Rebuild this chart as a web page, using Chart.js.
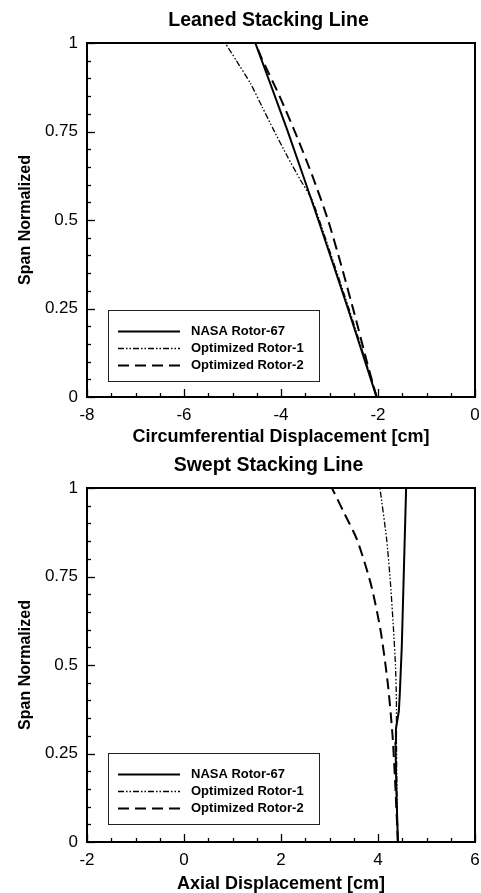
<!DOCTYPE html>
<html>
<head>
<meta charset="utf-8">
<script src="https://cdn.jsdelivr.net/npm/chart.js@4.4.1/dist/chart.umd.min.js"></script>
<style>
  html, body { margin: 0; padding: 0; background: #fff; }
  #wrap { position: relative; width: 481px; height: 893px; overflow: hidden; }
  canvas { position: absolute; left: 0; }
</style>
</head>
<body>
<div id="wrap">
  <canvas id="leanChart" width="481" height="446" style="top:0"></canvas>
  <canvas id="sweepChart" width="481" height="448" style="top:445px"></canvas>
</div>
<script>
const FONT = "'Liberation Sans', Arial, Helvetica, sans-serif";

const seriesLabels = ['NASA Rotor-67', 'Optimized Rotor-1', 'Optimized Rotor-2'];

// leaned stacking line: circumferential displacement [cm] along the span
const leanNasaSpan = [0, 0.25, 0.5, 0.754, 1];
const leanNasaX    = [-2.03, -2.62, -3.23, -3.87, -4.53];
const leanOpt1Span = [0, 0.25, 0.5, 0.56, 0.613, 0.68, 0.754, 0.82, 0.886, 0.95, 1];
const leanOpt1X    = [-2.02, -2.60, -3.21, -3.37, -3.60, -3.87, -4.15, -4.39, -4.63, -4.92, -5.15];
const leanOpt2Span = [0, 0.1, 0.232, 0.373, 0.5, 0.62, 0.735, 0.85, 0.957, 1];
const leanOpt2X    = [-2.03, -2.23, -2.48, -2.76, -3.03, -3.34, -3.67, -4.03, -4.40, -4.53];

// swept stacking line: axial displacement [cm] along the span
const sweepNasaSpan = [0, 0.14, 0.28, 0.32, 0.37, 0.42, 0.55, 0.75, 1];
const sweepNasaX    = [4.41, 4.38, 4.36, 4.37, 4.43, 4.45, 4.49, 4.53, 4.58];
const sweepOpt1Span = [0, 0.15, 0.3, 0.4, 0.5, 0.6, 0.726, 0.853, 1];
const sweepOpt1X    = [4.41, 4.39, 4.38, 4.38, 4.36, 4.32, 4.26, 4.18, 4.04];
const sweepOpt2Span = [0, 0.15, 0.3, 0.45, 0.6, 0.73, 0.853, 0.93, 1];
const sweepOpt2X    = [4.41, 4.36, 4.30, 4.20, 4.05, 3.85, 3.57, 3.30, 3.05];

const leanTicks  = { min: -8, max: 0, step: 2, minor: 0.5 };
const sweepTicks = { min: -2, max: 6, step: 2, minor: 0.5 };
const spanTicks  = { min: 0, max: 1, step: 0.25, minor: 0.05 };

const lineStyles = [
  { borderWidth: 2, borderDash: [] },
  { borderWidth: 1.3, borderDash: [6, 2, 1.5, 2, 1.5, 2] },
  { borderWidth: 2, borderDash: [11, 6] }
];

function pts(xs, ys) {
  return xs.map((x, i) => ({ x: x, y: ys[i] }));
}

// box frame with inward major/minor ticks on the left and bottom axes
const framePlugin = {
  id: 'frameTicks',
  afterLayout(chart) {
    // let the y tick labels use the full width left of the plot
    chart.scales.y.left = 0;
  },
  afterDatasetsDraw(chart, args, opts) {
    const { ctx, chartArea: a, scales } = chart;
    ctx.save();
    ctx.strokeStyle = '#000';
    ctx.lineWidth = 1.3;
    const xs = scales.x, ys = scales.y;
    const nx = Math.round((xs.max - xs.min) / opts.xMinor);
    for (let i = 0; i <= nx; i++) {
      const v = xs.min + i * opts.xMinor;
      const major = Math.abs(v / opts.xMajor - Math.round(v / opts.xMajor)) < 1e-6;
      const px = Math.round(xs.getPixelForValue(v)) + 0.5;
      ctx.beginPath();
      ctx.moveTo(px, a.bottom);
      ctx.lineTo(px, a.bottom - (major ? 8 : 4));
      ctx.stroke();
    }
    const ny = Math.round((ys.max - ys.min) / opts.yMinor);
    for (let i = 0; i <= ny; i++) {
      const v = ys.min + i * opts.yMinor;
      const major = Math.abs(v / opts.yMajor - Math.round(v / opts.yMajor)) < 1e-6;
      const py = Math.round(ys.getPixelForValue(v)) + 0.5;
      ctx.beginPath();
      ctx.moveTo(a.left, py);
      ctx.lineTo(a.left + (major ? 8 : 4), py);
      ctx.stroke();
    }
    ctx.lineWidth = 2;
    ctx.strokeRect(a.left, a.top, a.right - a.left, a.bottom - a.top);
    ctx.restore();
  }
};

// boxed legend in the lower-left corner of the plot
const boxLegendPlugin = {
  id: 'boxLegend',
  afterDraw(chart, args, opts) {
    const { ctx, chartArea: a } = chart;
    const left = a.left + opts.left;
    const top = a.bottom - opts.bottom - opts.height;
    ctx.save();
    ctx.fillStyle = '#fff';
    ctx.fillRect(left, top, opts.width, opts.height);
    ctx.strokeStyle = '#222';
    ctx.lineWidth = 1;
    ctx.strokeRect(left + 0.5, top + 0.5, opts.width, opts.height);
    ctx.font = 'bold 13px ' + FONT;
    ctx.textBaseline = 'middle';
    ctx.fillStyle = '#000';
    chart.data.datasets.forEach((ds, i) => {
      const y = Math.round(top + 21 + i * 17) + 0.5;
      ctx.strokeStyle = '#000';
      ctx.lineWidth = ds.borderWidth;
      ctx.setLineDash(ds.borderDash);
      ctx.beginPath();
      ctx.moveTo(left + 10, y);
      ctx.lineTo(left + 72, y);
      ctx.stroke();
      ctx.setLineDash([]);
      ctx.fillText(ds.label, left + 83, y);
    });
    ctx.restore();
  }
};

// left padding pushes the centred title right; the y axis box is narrowed to match
const PAD_LEFT = 62;
const PLOT_LEFT = 87;

function makeChart(id, title, xTitle, xTicks, series, xBoxHeight, legendBottom) {
  const datasets = series.map((s, i) => ({
    label: seriesLabels[i],
    data: pts(s[0], s[1]),
    showLine: true,
    borderColor: '#000',
    backgroundColor: '#000',
    borderWidth: lineStyles[i].borderWidth,
    borderDash: lineStyles[i].borderDash,
    pointRadius: 0,
    tension: s[2] || 0
  }));
  return new Chart(document.getElementById(id), {
    type: 'scatter',
    data: { datasets: datasets },
    options: {
      responsive: false,
      animation: false,
      layout: { padding: { left: PAD_LEFT, right: 6, top: 0, bottom: 0 } },
      plugins: {
        legend: { display: false },
        tooltip: { enabled: false },
        title: {
          display: true, text: title, color: '#000',
          font: { family: FONT, size: 19.5, weight: 'bold' },
          padding: { top: 9, bottom: 10.6 }
        },
        frameTicks: { xMinor: xTicks.minor, xMajor: xTicks.step, yMinor: spanTicks.minor, yMajor: spanTicks.step },
        boxLegend: { left: 21, bottom: legendBottom, width: 211, height: 71 }
      },
      scales: {
        x: {
          type: 'linear', min: xTicks.min, max: xTicks.max,
          grid: { display: false, drawTicks: false },
          border: { display: false },
          ticks: { stepSize: xTicks.step, color: '#000', padding: 8, font: { family: FONT, size: 17 } },
          title: {
            display: true, text: xTitle, color: '#000',
            font: { family: FONT, size: 18, weight: 'bold', lineHeight: 1 },
            padding: { top: 0, bottom: 0 }
          },
          afterFit: s => { s.height = xBoxHeight; s.paddingLeft = 0; s.paddingRight = 0; }
        },
        y: {
          type: 'linear', min: spanTicks.min, max: spanTicks.max,
          grid: { display: false, drawTicks: false },
          border: { display: false },
          ticks: {
            stepSize: spanTicks.step, color: '#000', padding: 9, font: { family: FONT, size: 17 },
            callback: v => String(Number(v.toFixed(2)))
          },
          title: {
            display: true, text: 'Span Normalized', color: '#000',
            font: { family: FONT, size: 16, weight: 'bold', lineHeight: 1 },
            padding: { top: 17.5, bottom: 0 }
          },
          afterFit: s => { s.width = PLOT_LEFT - PAD_LEFT; s.paddingTop = 0; s.paddingBottom = 0; }
        }
      }
    },
    plugins: [framePlugin, boxLegendPlugin]
  });
}

makeChart('leanChart', 'Leaned Stacking Line', 'Circumferential Displacement [cm]', leanTicks, [
  [leanNasaX, leanNasaSpan, 0.15],
  [leanOpt1X, leanOpt1Span, 0.2],
  [leanOpt2X, leanOpt2Span, 0.2]
], 49, 16);

makeChart('sweepChart', 'Swept Stacking Line', 'Axial Displacement [cm]', sweepTicks, [
  [sweepNasaX, sweepNasaSpan, 0],
  [sweepOpt1X, sweepOpt1Span, 0.2],
  [sweepOpt2X, sweepOpt2Span, 0.25]
], 51, 18);
</script>
</body>
</html>
